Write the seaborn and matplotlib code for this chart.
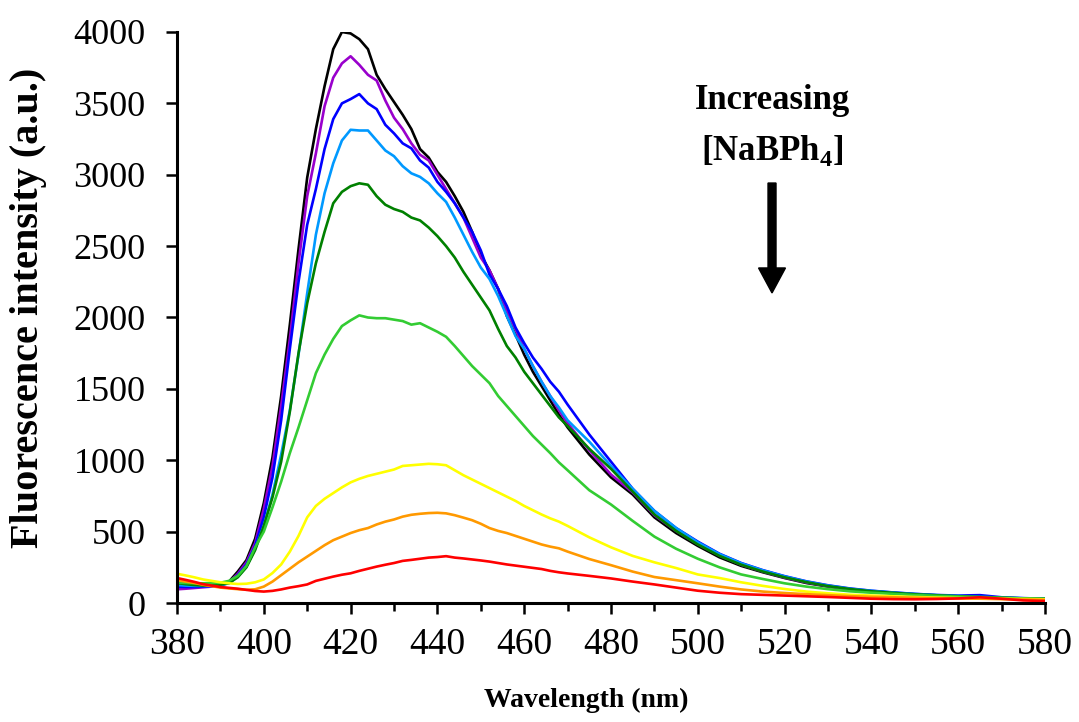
import matplotlib
matplotlib.use("Agg")
import matplotlib.pyplot as plt
from matplotlib.ticker import MultipleLocator
import pandas as pd
import seaborn as sns

sns.set_style("ticks")
plt.rcParams['font.family'] = ['Liberation Serif', 'DejaVu Serif']
plt.rcParams['mathtext.fontset'] = 'custom'
plt.rcParams['mathtext.rm'] = 'Liberation Serif'
plt.rcParams['mathtext.bf'] = 'Liberation Serif:bold'
plt.rcParams['text.color'] = 'black'
plt.rcParams['axes.labelcolor'] = 'black'
plt.rcParams['xtick.color'] = 'black'
plt.rcParams['ytick.color'] = 'black'

# Wavelength grid (nm)
wavelength = list(range(380, 471, 2)) + list(range(475, 581, 5))

# Fluorescence intensity (a.u.) for increasing [NaBPh4]
s_black = [140, 135, 128, 122, 122, 130, 150, 220, 300, 450,
           700, 1020, 1450, 1950, 2480, 2980, 3320, 3620, 3880, 4000,
           3990, 3950, 3880, 3700, 3600, 3510, 3420, 3320, 3180, 3120,
           3020, 2950, 2850, 2740, 2600, 2440, 2330, 2200, 2010, 1880,
           1740, 1620, 1520, 1420, 1320, 1230,
           1040, 880, 760, 600, 490, 400, 320, 260, 215, 175, 140, 115, 95, 80, 70, 60, 52, 45, 40, 35, 30, 28]
s_purple = [96, 100, 105, 110, 115, 125, 145, 205, 285, 420,
            660, 960, 1380, 1850, 2380, 2850, 3150, 3480, 3680, 3780,
            3830, 3770, 3700, 3660, 3520, 3400, 3320, 3220, 3140, 3100,
            3000, 2900, 2800, 2700, 2560, 2420, 2330, 2200, 2050, 1920,
            1780, 1660, 1550, 1450, 1350, 1260,
            1070, 900, 775, 615, 505, 412, 332, 268, 220, 178, 144, 117, 97, 81, 71, 61, 53, 46, 41, 36, 31, 28]
s_blue = [114, 112, 112, 115, 118, 125, 140, 195, 270, 400,
          600, 880, 1280, 1780, 2250, 2650, 2900, 3180, 3390, 3500,
          3530, 3565, 3500, 3460, 3350, 3290, 3220, 3185, 3100, 3050,
          2950, 2880, 2800, 2700, 2600, 2470, 2300, 2200, 2080, 1930,
          1820, 1720, 1640, 1550, 1480, 1390,
          1180, 990, 800, 645, 525, 430, 345, 280, 230, 188, 152, 124, 102, 86, 74, 64, 56, 52, 55, 40, 34, 30]
s_lightblue = [126, 122, 120, 120, 120, 125, 138, 185, 255, 380,
               540, 760, 1040, 1350, 1740, 2170, 2580, 2870, 3080, 3240,
               3315, 3310, 3310, 3240, 3170, 3130, 3060, 3010, 2985, 2940,
               2870, 2810, 2700, 2580, 2460, 2350, 2270, 2150, 2010, 1870,
               1780, 1660, 1550, 1450, 1370, 1280,
               1130, 960, 800, 645, 525, 425, 342, 278, 228, 186, 150, 122, 100, 85, 73, 63, 55, 49, 44, 38, 33, 29]
s_darkgreen = [140, 132, 126, 122, 122, 128, 140, 180, 250, 370,
               540, 740, 990, 1340, 1750, 2100, 2380, 2600, 2800, 2880,
               2920, 2940, 2930, 2850, 2790, 2760, 2740, 2700, 2680, 2630,
               2570, 2500, 2420, 2320, 2230, 2140, 2050, 1920, 1800, 1720,
               1620, 1540, 1460, 1380, 1300, 1240,
               1080, 940, 780, 620, 505, 410, 330, 268, 220, 180, 146, 118, 98, 82, 71, 61, 54, 47, 42, 37, 32, 29]
s_lime = [142, 140, 138, 138, 140, 142, 155, 190, 260, 390,
          500, 670, 850, 1050, 1230, 1420, 1610, 1740, 1850, 1940,
          1980, 2015, 2000, 1995, 1995, 1985, 1975, 1950, 1960, 1930,
          1900, 1865, 1800, 1730, 1660, 1600, 1540, 1450, 1380, 1310,
          1240, 1170, 1110, 1050, 985, 930,
          790, 690, 575, 465, 380, 310, 250, 200, 168, 138, 115, 97, 82, 72, 64, 56, 50, 45, 40, 36, 32, 30]
s_yellow = [205, 193, 180, 165, 155, 145, 138, 133, 135, 145,
            165, 210, 270, 360, 470, 600, 680, 730, 770, 810,
            845, 870, 890, 905, 920, 935, 960, 965, 970, 975,
            972, 965, 930, 895, 865, 835, 805, 775, 745, 715,
            680, 650, 620, 593, 570, 540,
            460, 390, 330, 285, 245, 200, 175, 145, 120, 98, 80, 68, 58, 52, 47, 42, 38, 35, 32, 30, 28, 26]
s_orange = [160, 150, 140, 128, 118, 108, 102, 97, 93, 96,
            115, 150, 195, 240, 285, 325, 365, 405, 440, 465,
            490, 510, 525, 550, 570, 585, 605, 618, 625, 630,
            632, 628, 615, 598, 580, 555, 525, 505, 490, 470,
            450, 430, 410, 395, 383, 360,
            308, 265, 220, 182, 160, 138, 115, 95, 80, 70, 62, 55, 48, 43, 40, 37, 34, 32, 30, 27, 25, 22]
s_red = [175, 162, 148, 132, 122, 112, 106, 100, 92, 84,
         80, 85, 95, 108, 118, 130, 155, 170, 185, 198,
         208, 225, 240, 255, 268, 280, 295, 302, 310, 318,
         322, 328, 318, 312, 305, 298, 290, 280, 270, 262,
         254, 246, 238, 225, 215, 207,
         190, 172, 150, 130, 108, 86, 72, 62, 57, 52, 47, 42, 36, 30, 27, 26, 28, 32, 40, 30, 18, 14]

names = ["c1", "c2", "c3", "c4", "c5", "c6", "c7", "c8", "c9"]
series = [s_black, s_purple, s_blue, s_lightblue, s_darkgreen, s_lime, s_yellow, s_orange, s_red]
colors = ["#000000", "#9900CC", "#0000FF", "#0099FF", "#008000", "#33CC33", "#FFFF00", "#FF9900", "#FF0000"]

df = pd.concat([pd.DataFrame({"Wavelength": wavelength, "Intensity": vals, "Sample": n})
                for n, vals in zip(names, series)], ignore_index=True)

fig = plt.figure(figsize=(10.79, 7.22), dpi=100)
ax = fig.add_axes([177 / 1079, 1 - 603 / 722, (1045 - 177) / 1079, (603 - 32) / 722])

sns.lineplot(data=df, x="Wavelength", y="Intensity", hue="Sample", hue_order=names,
             palette=dict(zip(names, colors)), legend=False, linewidth=1.9,
             errorbar=None, ax=ax)

ax.set_xlim(380, 580)
ax.set_ylim(0, 4000)
ax.xaxis.set_major_locator(MultipleLocator(20))
ax.xaxis.set_minor_locator(MultipleLocator(10))
ax.yaxis.set_major_locator(MultipleLocator(500))

for side in ["top", "right"]:
    ax.spines[side].set_visible(False)
for side in ["left", "bottom"]:
    ax.spines[side].set_linewidth(2.2)
    ax.spines[side].set_color("black")

ax.tick_params(axis="both", which="major", direction="out", length=7.7, width=1.8, color="black")
ax.tick_params(axis="x", which="minor", direction="out", length=6, width=1.8, color="black")
ax.tick_params(axis="x", which="major", labelsize=27, pad=10, labelcolor="black")
ax.tick_params(axis="y", which="major", labelsize=26, pad=15, labelcolor="black")

ax.set_xlabel("Wavelength (nm)", fontsize=20, fontweight="bold", va="top", color="black")
ax.xaxis.set_label_coords(0.471, -0.149)
ax.set_ylabel("Fluorescence intensity (a.u.)", fontsize=29, fontweight="bold", color="black")
ax.yaxis.set_label_coords(-0.15, 0.516)

ax.text(517.1, 3461, "Increasing", ha="center", va="baseline", fontsize=25,
        fontweight="bold", color="black")
ax.text(517.1, 3103, r"[NaBPh$_\mathbf{4}$]", ha="center", va="baseline", fontsize=25,
        fontweight="bold", color="black")
ax.arrow(517.1, 2942, 0, -(2942 - 2172), width=1.84, head_width=6.2, head_length=175,
         length_includes_head=True, color="black")

fig.savefig("out.png", dpi=100)
